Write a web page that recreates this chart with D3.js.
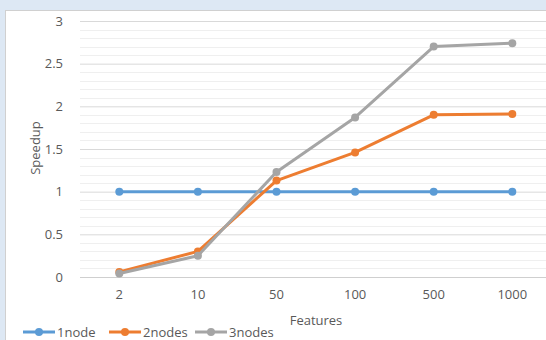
<!DOCTYPE html>
<html>
<head>
<meta charset="utf-8">
<script src="https://cdn.jsdelivr.net/npm/d3@7"></script>
<style>
    body { margin: 0; background: #dde8f4; }
    #chart { width: 546px; height: 340px; }
    text { font-family: "Open Sans", "Noto Sans", sans-serif; fill: #595959; }
</style>
</head>
<body>
<div id="chart"></div>
<script>

// data
let features = ["2", "10", "50", "100", "500", "1000"];
let oneNode = [1, 1, 1, 1, 1, 1];
let twoNodes = [0.06, 0.30, 1.13, 1.46, 1.90, 1.91];
let threeNodes = [0.04, 0.25, 1.23, 1.87, 2.70, 2.74];
let seriesNames = ["1node", "2nodes", "3nodes"];
let seriesColors = ["#5b9bd5", "#ed7d31", "#a5a5a5"];
let yTicks = [0, 0.5, 1, 1.5, 2, 2.5, 3];

let series = [oneNode, twoNodes, threeNodes].map((vals, i) => ({
    name: seriesNames[i],
    color: seriesColors[i],
    values: vals.map((v, j) => ({feature: features[j], value: v}))
}));

let width = 546, height = 340;

let svg = d3.select("#chart").append("svg")
    .attr("width", width)
    .attr("height", height);

// white chart panel
svg.append("rect")
    .attr("x", 5.5)
    .attr("y", 10.5)
    .attr("width", width)
    .attr("height", height)
    .attr("fill", "white")
    .attr("stroke", "#d0d0d0");

let x = d3.scaleBand()
    .domain(features)
    .range([80, 551.6]);

let y = d3.scaleLinear()
    .domain([0, 3])
    .range([277, 21]);

// minor gridlines
let minor = d3.range(0, 3.001, 0.1).filter(v => Math.abs(v * 2 - Math.round(v * 2)) > 0.01);
svg.append("g")
    .selectAll("line")
    .data(minor)
    .enter().append("line")
    .attr("x1", 80)
    .attr("x2", width)
    .attr("y1", d => Math.round(y(d)) + 0.5)
    .attr("y2", d => Math.round(y(d)) + 0.5)
    .attr("stroke", "#efefef");

// y axis with major gridlines
let yAxis = d3.axisLeft(y)
    .tickValues(yTicks)
    .tickSize(-(width - 80))
    .tickPadding(17)
    .tickFormat(d3.format(""));

svg.append("g")
    .attr("class", "y-axis")
    .attr("transform", "translate(80,0)")
    .call(yAxis)
    .call(g => g.select(".domain").remove())
    .call(g => g.selectAll(".tick line").attr("stroke", d => d === 0 ? "#cfcfcf" : "#d9d9d9"))
    .call(g => g.selectAll(".tick text").attr("font-size", 13));

// x axis labels
let xAxis = d3.axisBottom(x)
    .tickSize(0)
    .tickPadding(13);

svg.append("g")
    .attr("transform", "translate(0,277)")
    .call(xAxis)
    .call(g => g.select(".domain").remove())
    .call(g => g.selectAll(".tick text").attr("font-size", 13));

// axis titles
svg.append("text")
    .attr("x", 316)
    .attr("y", 325)
    .attr("text-anchor", "middle")
    .attr("font-size", 13)
    .text("Features");

svg.append("text")
    .attr("transform", "translate(40,148) rotate(-90)")
    .attr("text-anchor", "middle")
    .attr("font-size", 13)
    .text("Speedup");

// lines and markers
let line = d3.line()
    .x(d => x(d.feature) + x.bandwidth() / 2)
    .y(d => y(d.value));

let groups = svg.selectAll(".series")
    .data(series)
    .enter().append("g")
    .attr("class", "series");

groups.append("path")
    .attr("d", d => line(d.values))
    .attr("fill", "none")
    .attr("stroke", d => d.color)
    .attr("stroke-width", 3)
    .attr("stroke-linejoin", "round");

groups.selectAll("circle")
    .data(d => d.values.map(v => ({...v, color: d.color})))
    .enter().append("circle")
    .attr("cx", d => x(d.feature) + x.bandwidth() / 2)
    .attr("cy", d => y(d.value))
    .attr("r", 4)
    .attr("fill", d => d.color);

// legend
let legend = svg.selectAll(".legend")
    .data(series)
    .enter().append("g")
    .attr("class", "legend")
    .attr("transform", (d, i) => `translate(${23 + i * 86},332)`);

legend.append("line")
    .attr("x1", 0)
    .attr("x2", 32)
    .attr("stroke", d => d.color)
    .attr("stroke-width", 3);

legend.append("circle")
    .attr("cx", 16)
    .attr("r", 4)
    .attr("fill", d => d.color);

legend.append("text")
    .attr("x", 34)
    .attr("y", 0)
    .attr("dy", "0.35em")
    .attr("font-size", 13)
    .text(d => d.name);

</script>
</body>
</html>
